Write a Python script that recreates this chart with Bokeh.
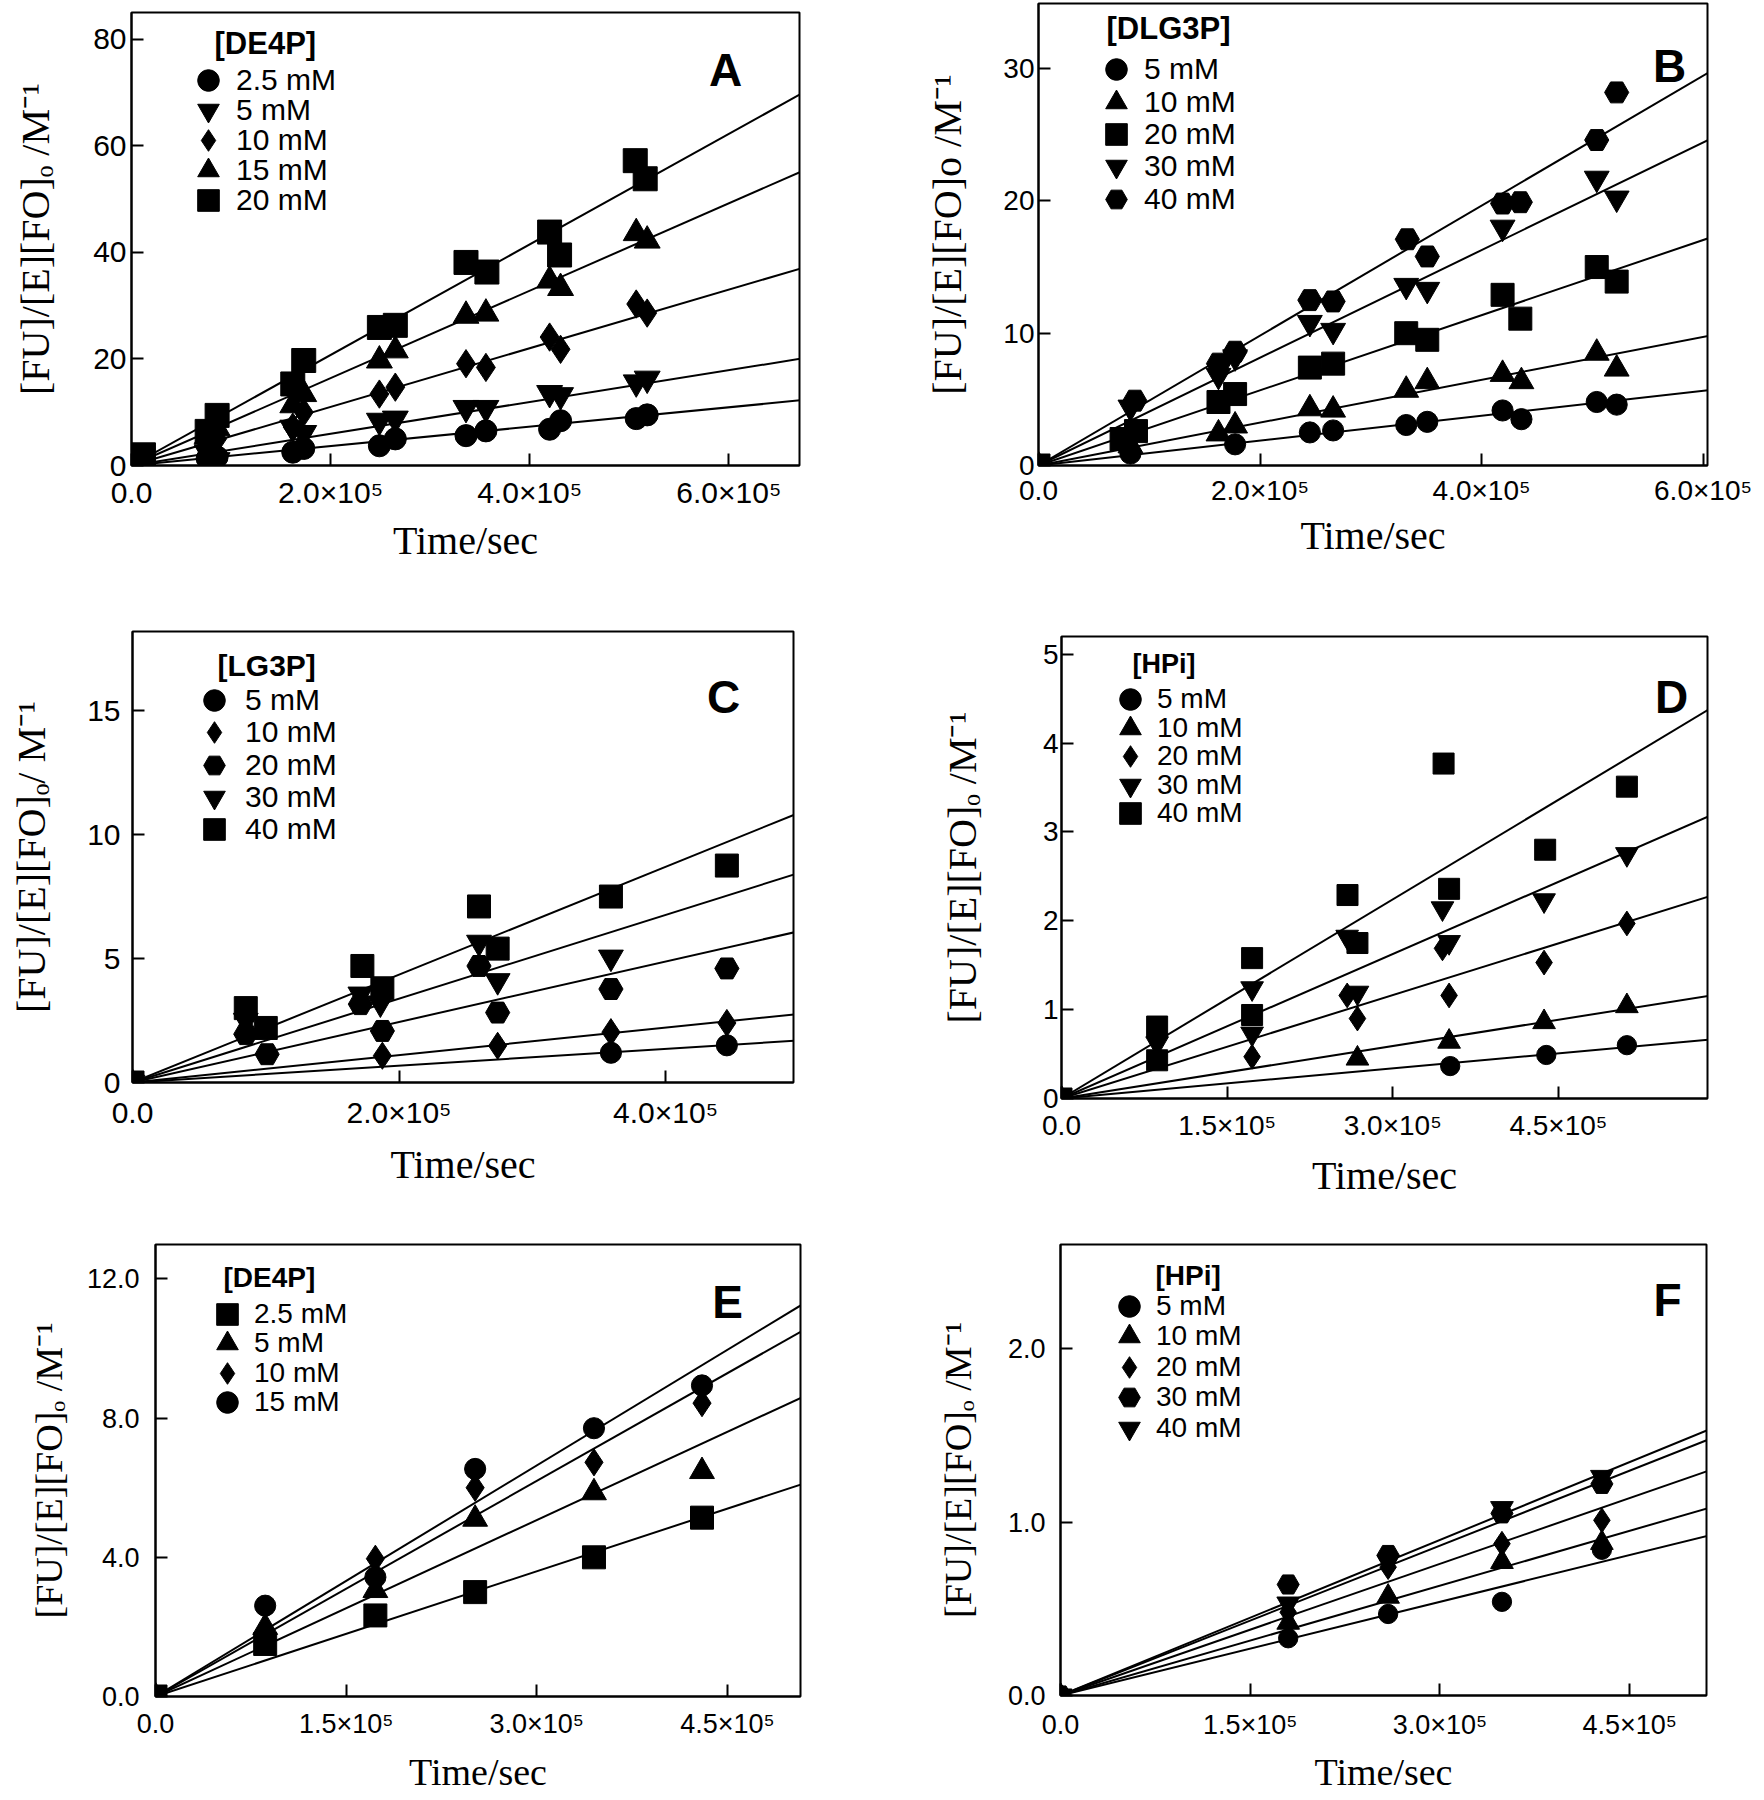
from bokeh.plotting import figure
from bokeh.layouts import column, row
from bokeh.models import Range1d, FixedTicker, Slope, Legend, LegendItem, Label
from bokeh.embed import file_html
from bokeh.resources import INLINE

# ---------------- data (time in s, y in M^-1) ----------------
# Panel A  [DE4P]
tA = [0, 76000, 86000, 162000, 173000, 249000, 265000, 336000, 356000, 420000, 431000, 507000, 518000]
tA_20 = [0, 12000, 76000, 86000, 162000, 173000, 249000, 265000, 336000, 357000, 420000, 430000, 506000, 516000]
yA_2_5 = [0, 1.3, 1.6, 2.5, 3.2, 3.7, 5.0, 5.6, 6.5, 6.8, 8.4, 8.8, 9.5]
yA_5 = [0, 2.5, 1.0, 7.1, 6.1, 8.4, 8.8, 10.8, 10.8, 13.6, 13.2, 15.6, 16.3]
yA_10 = [0, 4.0, 5.0, 7.2, 10.0, 13.4, 14.7, 19.1, 18.4, 24.1, 21.8, 30.3, 28.6]
yA_15 = [0, 5.5, 7.0, 11.3, 13.4, 19.7, 21.6, 28.1, 28.5, 34.7, 33.3, 43.6, 42.2]
yA_20 = [0, 2.0, 6.4, 9.4, 15.3, 19.7, 25.9, 26.3, 38.1, 36.3, 43.8, 39.5, 57.2, 53.8]
slopeA = [1.82e-5, 2.98e-5, 5.50e-5, 8.20e-5, 10.37e-5]
labelsA = ["2.5 mM", "5 mM", "10 mM", "15 mM", "20 mM"]

# Panel B  [DLG3P]
tB_5 = [0, 83000, 177500, 245000, 266000, 332000, 351000, 419000, 436000, 504000, 522000]
yB_5 = [0, 0.9, 1.6, 2.5, 2.65, 3.06, 3.3, 4.16, 3.5, 4.8, 4.6]
tB_10 = [0, 83000, 162500, 177500, 245000, 266000, 332000, 351000, 419000, 436000, 504000, 522000]
yB_10 = [0, 1.5, 2.4, 3.0, 4.3, 4.2, 5.7, 6.35, 6.9, 6.35, 8.5, 7.3]
tB_20 = [0, 75000, 88000, 162500, 177500, 245000, 266000, 332000, 351000, 419000, 435000, 504000, 522000]
yB_20 = [0, 2.0, 2.6, 4.8, 5.4, 7.4, 7.7, 10.0, 9.5, 12.9, 11.1, 15.0, 13.9]
tB_30 = [0, 83000, 162500, 177500, 245000, 266000, 332000, 351000, 419000, 504000, 522000]
yB_30 = [0, 4.4, 6.8, 8.2, 10.8, 10.2, 13.6, 13.3, 18.0, 21.7, 20.2]
tB_40 = [0, 87000, 162500, 177500, 245000, 266000, 333000, 351000, 419000, 435000, 504000, 522000]
yB_40 = [0, 4.9, 7.7, 8.6, 12.5, 12.4, 17.1, 15.8, 19.8, 19.9, 24.6, 28.2]
slopeB = [0.94e-5, 1.62e-5, 2.84e-5, 4.07e-5, 4.91e-5]
labelsB = ["5 mM", "10 mM", "20 mM", "30 mM", "40 mM"]

# Panel C  [LG3P]
tC_5 = [0, 359000, 446000]
yC_5 = [0, 1.2, 1.5]
tC_10 = [0, 187500, 274000, 359000, 446000]
yC_10 = [0, 1.08, 1.48, 2.03, 2.4]
tC_20 = [0, 85000, 101000, 171000, 187500, 260000, 274000, 359000, 446000]
yC_20 = [0, 1.95, 1.14, 3.16, 2.08, 4.7, 2.82, 3.77, 4.6]
tC_30 = [0, 85000, 171000, 186000, 260000, 274000, 359000]
yC_30 = [0, 2.5, 3.56, 3.2, 5.65, 4.1, 5.05]
tC_40 = [0, 85000, 100000, 172500, 187500, 260000, 274000, 359000, 446000]
yC_40 = [0, 3.0, 2.2, 4.7, 3.8, 7.1, 5.4, 7.5, 8.75]
slopeC = [0.339e-5, 0.553e-5, 1.22e-5, 1.69e-5, 2.175e-5]
labelsC = ["5 mM", "10 mM", "20 mM", "30 mM", "40 mM"]

# Panel D  [HPi]
tD_5 = [0, 352000, 439000, 512000]
yD_5 = [0, 0.365, 0.49, 0.60]
tD_10 = [0, 268000, 351000, 437000, 512000]
yD_10 = [0, 0.45, 0.64, 0.86, 1.04]
tD_20 = [0, 172600, 258700, 268000, 345000, 351000, 437000, 512000]
yD_20 = [0, 0.47, 1.16, 0.90, 1.69, 1.16, 1.53, 1.97]
tD_30 = [0, 86600, 172600, 172600, 258700, 268000, 345000, 351000, 437000, 512000]
yD_30 = [0, 0.62, 1.24, 0.73, 1.82, 1.19, 2.14, 1.76, 2.23, 2.75]
tD_40 = [0, 86600, 86600, 172600, 172600, 259000, 268000, 346000, 351000, 438000, 512000]
yD_40 = [0, 0.81, 0.43, 1.58, 0.94, 2.29, 1.75, 3.77, 2.36, 2.80, 3.51]
slopeD = [0.113e-5, 0.197e-5, 0.388e-5, 0.542e-5, 0.747e-5]
labelsD = ["5 mM", "10 mM", "20 mM", "30 mM", "40 mM"]

# Panel E  [DE4P]
tE = [0, 86300, 173000, 251500, 345000, 430000]
yE_2_5 = [0, 1.51, 2.33, 3.0, 4.0, 5.14]
yE_5 = [0, 1.99, 3.05, 5.1, 5.86, 6.47]
yE_10 = [0, 1.8, 3.96, 6.0, 6.73, 8.43]
yE_15 = [0, 2.61, 3.43, 6.54, 7.71, 8.94]
slopeE = [1.20e-5, 1.69e-5, 2.065e-5, 2.214e-5]
labelsE = ["2.5 mM", "5 mM", "10 mM", "15 mM"]

# Panel F  [HPi]
tF = [0, 180000, 259000, 349000, 428000]
yF_5 = [0, 0.33, 0.47, 0.54, 0.84]
yF_10 = [0, 0.42, 0.57, 0.77, 0.88]
yF_20 = [0, 0.48, 0.74, 0.875, 1.01]
yF_30 = [0, 0.64, 0.81, 1.05, 1.22]
yF_40 = [0, 0.53, 0.77, 1.08, 1.26]
slopeF = [0.180e-5, 0.211e-5, 0.253e-5, 0.288e-5, 0.299e-5]
labelsF = ["5 mM", "10 mM", "20 mM", "30 mM", "40 mM"]

# tick values and labels
xticks_A = [0, 200000, 400000, 600000]
xlabels_A = ["0.0", "2.0×10⁵", "4.0×10⁵", "6.0×10⁵"]
xticks_C = [0, 200000, 400000]
xlabels_C = ["0.0", "2.0×10⁵", "4.0×10⁵"]
xticks_D = [0, 150000, 300000, 450000]
xlabels_D = ["0.0", "1.5×10⁵", "3.0×10⁵", "4.5×10⁵"]
yticks_A = [0, 20, 40, 60, 80]
yticks_B = [0, 10, 20, 30]
yticks_C = [0, 5, 10, 15]
yticks_D = [0, 1, 2, 3, 4, 5]
yticks_E = [0, 4, 8, 12]
ylabels_E = ["0.0", "4.0", "8.0", "12.0"]
yticks_F = [0, 1, 2]
ylabels_F = ["0.0", "1.0", "2.0"]

YLAB = "[FU]/[E][FO]ₒ /M⁻¹"
YLAB_B = "[FU]/[E][FO]o /M⁻¹"
YLAB_C = "[FU]/[E][FO]ₒ/ M⁻¹"

MULT = {"circle": 0.92, "square": 1.0, "triangle": 1.08, "inverted_triangle": 1.08,
        "diamond": 1.18, "hex": 1.05}


def panel(cfg):
    ox, oy = cfg["origin"]
    W, H = cfg["size"]
    fl, ft, fr, fb = cfg["frame"]
    xend, yend = cfg["xend"], cfg["yend"]
    p = figure(width=W, height=H,
               min_border_left=fl - ox, min_border_right=ox + W - fr,
               min_border_top=ft - oy, min_border_bottom=oy + H - fb,
               x_range=Range1d(0, xend), y_range=Range1d(0, yend),
               output_backend="svg", toolbar_location=None, tools="")
    try:
        p.frame_align = False
    except Exception:
        pass
    p.xgrid.visible = False
    p.ygrid.visible = False
    p.outline_line_color = "black"
    p.outline_line_width = 2
    p.outline_line_alpha = 1.0
    p.background_fill_color = "white"
    p.border_fill_color = "white"

    for ax in (p.xaxis[0], p.yaxis[0]):
        ax.axis_line_color = "black"
        ax.axis_line_width = 2
        ax.major_tick_in = 12
        ax.major_tick_out = 0
        ax.major_tick_line_width = 2
        ax.major_tick_line_color = "black"
        ax.minor_tick_line_color = None
        ax.major_label_text_font = "Liberation Sans"
        ax.major_label_text_font_size = f"{cfg['tick_fs']}px"
        ax.major_label_text_color = "black"
        ax.axis_label_text_font = "Liberation Serif"
        ax.axis_label_text_font_style = "normal"
        ax.axis_label_text_font_size = f"{cfg['lab_fs']}px"
        ax.axis_label_text_color = "black"

    xa, ya = p.xaxis[0], p.yaxis[0]
    xa.ticker = FixedTicker(ticks=cfg["xticks"])
    xa.major_label_overrides = {t: l for t, l in zip(cfg["xticks"], cfg["xlabels"])}
    ya.ticker = FixedTicker(ticks=cfg["yticks"])
    ya.major_label_overrides = {t: l for t, l in zip(cfg["yticks"], cfg["ylabels"])}
    xa.axis_label = "Time/sec"
    ya.axis_label = cfg["ylabel"]
    xa.major_label_standoff, xa.axis_label_standoff = cfg["xstand"]
    ya.major_label_standoff, ya.axis_label_standoff = cfg["ystand"]

    # fitted lines through the origin
    for g in cfg["slopes"]:
        p.add_layout(Slope(gradient=g, y_intercept=0, line_color="black", line_width=2))

    items = []
    sz = cfg["msize"]
    for (t, y, mk), lab in zip(cfg["series"], cfg["labels"]):
        r = p.scatter(x=t, y=y, marker=mk, size=sz * MULT[mk],
                      fill_color="black", line_color="black")
        items.append(LegendItem(label=lab, renderers=[r]))

    # helpers: page px -> data coords
    def dx(px):
        return xend * (px - fl) / (fr - fl)

    def dy(py):
        return yend * (fb - py) / (fb - ft)

    # legend: one single-item legend per row (glyph box G -> marker size 0.4*G)
    G = 54
    mx, r1, pitch, stand = cfg["leg"]
    for i, item in enumerate(items):
        ry = r1 + i * pitch
        leg = Legend(items=[item],
                     location=(round(mx - G / 2 - fl), round(fb - (ry + G / 2))),
                     orientation="vertical", glyph_width=G, glyph_height=G, spacing=0,
                     padding=0, margin=0, label_standoff=stand,
                     border_line_color=None, background_fill_alpha=0,
                     label_text_font="Liberation Sans", label_text_font_size=f"{cfg['leg_fs']}px",
                     label_text_color="black")
        p.add_layout(leg)

    tx, ty, ttext = cfg["title"]
    p.add_layout(Label(x=dx(tx), y=dy(ty), text=ttext, text_font="Liberation Sans",
                       text_font_style="bold", text_font_size=f"{cfg['title_fs']}px",
                       text_align="left", text_baseline="middle", text_color="black"))
    lx, ly, ltext = cfg["letter"]
    p.add_layout(Label(x=dx(lx), y=dy(ly), text=ltext, text_font="Liberation Sans",
                       text_font_style="bold", text_font_size="46px",
                       text_align="center", text_baseline="alphabetic", text_color="black"))
    return p


pA = panel(dict(origin=(0, 0), size=(900, 600), frame=(131, 12, 799, 465), xend=6.71e5, yend=85.0,
                tick_fs=30, lab_fs=40, xstand=(10, 6), ystand=(5, 32),
                xticks=xticks_A, xlabels=xlabels_A, yticks=yticks_A, ylabels=[str(v) for v in yticks_A],
                ylabel=YLAB, slopes=slopeA, msize=24,
                series=[(tA, yA_2_5, "circle"), (tA, yA_5, "inverted_triangle"), (tA, yA_10, "diamond"),
                        (tA, yA_15, "triangle"), (tA_20, yA_20, "square")],
                labels=labelsA, leg=(208, 80, 30, 1), leg_fs=30, title_fs=31,
                title=(214, 43, "[DE4P]"), letter=(725, 69, "A")))

pB = panel(dict(origin=(900, 0), size=(862, 600), frame=(1038, 3, 1707, 465), xend=6.04e5, yend=34.92,
                tick_fs=28, lab_fs=40, xstand=(9, 4), ystand=(4, 30),
                xticks=xticks_A, xlabels=xlabels_A, yticks=yticks_B, ylabels=[str(v) for v in yticks_B],
                ylabel=YLAB_B, slopes=slopeB, msize=23,
                series=[(tB_5, yB_5, "circle"), (tB_10, yB_10, "triangle"), (tB_20, yB_20, "square"),
                        (tB_30, yB_30, "inverted_triangle"), (tB_40, yB_40, "hex")],
                labels=labelsB, leg=(1116, 69, 32.5, 1), leg_fs=30, title_fs=31,
                title=(1106, 28, "[DLG3P]"), letter=(1669, 65, "B")))

pC = panel(dict(origin=(0, 600), size=(900, 630), frame=(132, 631, 793, 1082), xend=4.96e5, yend=18.19,
                tick_fs=30, lab_fs=40, xstand=(13, 10), ystand=(12, 30),
                xticks=xticks_C, xlabels=xlabels_C, yticks=yticks_C, ylabels=[str(v) for v in yticks_C],
                ylabel=YLAB_C, slopes=slopeC, msize=23,
                series=[(tC_5, yC_5, "circle"), (tC_10, yC_10, "diamond"), (tC_20, yC_20, "hex"),
                        (tC_30, yC_30, "inverted_triangle"), (tC_40, yC_40, "square")],
                labels=labelsC, leg=(214, 700, 32.3, 4), leg_fs=30, title_fs=30,
                title=(217, 665, "[LG3P]"), letter=(723, 696, "C")))

pD = panel(dict(origin=(900, 600), size=(862, 630), frame=(1061, 636, 1707, 1098), xend=5.85e5, yend=5.20,
                tick_fs=28, lab_fs=40, xstand=(11, 9), ystand=(3, 55),
                xticks=xticks_D, xlabels=xlabels_D, yticks=yticks_D, ylabels=[str(v) for v in yticks_D],
                ylabel=YLAB, slopes=slopeD, msize=21,
                series=[(tD_5, yD_5, "circle"), (tD_10, yD_10, "triangle"), (tD_20, yD_20, "diamond"),
                        (tD_30, yD_30, "inverted_triangle"), (tD_40, yD_40, "square")],
                labels=labelsD, leg=(1130, 699, 28.6, 0), leg_fs=28, title_fs=27,
                title=(1132, 663, "[HPi]"), letter=(1671, 696, "D")))

pE = panel(dict(origin=(0, 1230), size=(900, 568), frame=(155, 1244, 800, 1696), xend=5.075e5, yend=12.99,
                tick_fs=27, lab_fs=38, xstand=(12, 9), ystand=(16, 14),
                xticks=xticks_D, xlabels=xlabels_D, yticks=yticks_E, ylabels=ylabels_E,
                ylabel=YLAB, slopes=slopeE, msize=23,
                series=[(tE, yE_2_5, "square"), (tE, yE_5, "triangle"), (tE, yE_10, "diamond"),
                        (tE, yE_15, "circle")],
                labels=labelsE, leg=(227, 1314, 29.3, 0), leg_fs=28, title_fs=28,
                title=(223, 1277, "[DE4P]"), letter=(727, 1301, "E")))

pF = panel(dict(origin=(900, 1230), size=(862, 568), frame=(1060, 1244, 1706, 1695), xend=5.107e5, yend=2.60,
                tick_fs=27, lab_fs=38, xstand=(14, 8), ystand=(15, 26),
                xticks=xticks_D, xlabels=xlabels_D, yticks=yticks_F, ylabels=ylabels_F,
                ylabel=YLAB, slopes=slopeF, msize=21,
                series=[(tF, yF_5, "circle"), (tF, yF_10, "triangle"), (tF, yF_20, "diamond"),
                        (tF, yF_30, "hex"), (tF, yF_40, "inverted_triangle")],
                labels=labelsF, leg=(1129, 1306, 30.4, 0), leg_fs=28, title_fs=28,
                title=(1155, 1275, "[HPi]"), letter=(1667, 1299, "F")))

layout = column(row(pA, pB), row(pC, pD), row(pE, pF))
open("out.html", "w").write(file_html(layout, INLINE))
